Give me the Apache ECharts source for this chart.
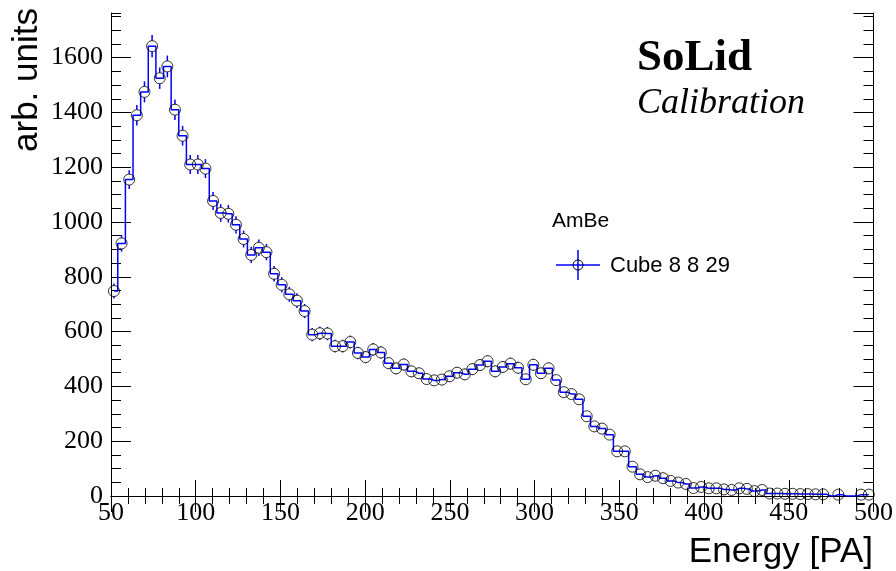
<!DOCTYPE html>
<html>
<head>
<meta charset="utf-8">
<script src="https://cdn.jsdelivr.net/npm/echarts@6/dist/echarts.min.js"></script>
<style>
html,body{margin:0;padding:0;background:#fff;}
#c{width:896px;height:571px;}
</style>
</head>
<body>
<div id="c"></div>
<script>
// Bin centres (Energy [PA]) and bin contents (arb. units)
const energy = [
  51.75, 56.25, 60.75, 65.25, 69.75, 74.25, 78.75, 83.25, 87.75, 92.25,
  96.75, 101.25, 105.75, 110.25, 114.75, 119.25, 123.75, 128.25, 132.75, 137.25,
  141.75, 146.25, 150.75, 155.25, 159.75, 164.25, 168.75, 173.25, 177.75, 182.25,
  186.75, 191.25, 195.75, 200.25, 204.75, 209.25, 213.75, 218.25, 222.75, 227.25,
  231.75, 236.25, 240.75, 245.25, 249.75, 254.25, 258.75, 263.25, 267.75, 272.25,
  276.75, 281.25, 285.75, 290.25, 294.75, 299.25, 303.75, 308.25, 312.75, 317.25,
  321.75, 326.25, 330.75, 335.25, 339.75, 344.25, 348.75, 353.25, 357.75, 362.25,
  366.75, 371.25, 375.75, 380.25, 384.75, 389.25, 393.75, 398.25, 402.75, 407.25,
  411.75, 416.25, 420.75, 425.25, 429.75, 434.25, 438.75, 443.25, 447.75, 452.25,
  456.75, 461.25, 465.75, 470.25, 474.75, 479.25, 483.75, 488.25, 492.75, 497.25
];
const counts = [
  748, 922, 1155, 1390, 1475, 1642, 1525, 1568, 1410, 1315,
  1210, 1210, 1195, 1077, 1033, 1030, 990, 938, 880, 906,
  890, 811, 771, 736, 713, 675, 589, 594, 593, 547,
  547, 562, 522, 507, 535, 524, 485, 466, 480, 455,
  448, 427, 422, 425, 437, 450, 444, 463, 478, 492,
  455, 471, 483, 468, 426, 479, 448, 466, 423, 379,
  372, 353, 291, 254, 246, 224, 163, 163, 107, 79,
  69, 74, 65, 55, 49, 44, 29, 33, 28, 28,
  24, 22, 28, 26, 18, 22, 9, 9, 8, 8,
  7, 7, 6, 6, 0, 5, 0, 0, 5, 5
];
const xTicks = {min: 50, max: 500, step: 50};
const yTicks = {min: 0, max: 1763, step: 200, minorStep: 50};
const legendHeader = 'AmBe';
const legendEntry = 'Cube 8 8 29';

const BLUE = '#0000ff';
const SERIF = '"Liberation Serif", "Times New Roman", serif';
const SANS = '"Liberation Sans", Arial, Helvetica, sans-serif';

const histData = energy.map((e, i) => [e, counts[i]]);
const pointData = [];
energy.forEach((e, i) => { if (counts[i] > 0) pointData.push([e, counts[i], Math.sqrt(counts[i])]); });

const R = 5.5;
function renderErr(params, api) {
  const x = api.value(0), v = api.value(1), e = api.value(2);
  const c = api.coord([x, v]);
  const t = api.coord([x, v + e]);
  const b = api.coord([x, v - e]);
  const children = [];
  const st = {stroke: BLUE, lineWidth: 1.5};
  if (c[1] - t[1] > R) children.push({type: 'line', shape: {x1: c[0], y1: c[1] - R, x2: c[0], y2: t[1]}, style: st});
  if (b[1] - c[1] > R) children.push({type: 'line', shape: {x1: c[0], y1: c[1] + R, x2: c[0], y2: b[1]}, style: st});
  return {type: 'group', children};
}

const plain = v => String(Math.round(v));
const axLine = {show: true, lineStyle: {color: '#000', width: 1}};
function xAx(pos, labels) {
  return {
    type: 'value', position: pos, min: xTicks.min, max: xTicks.max, interval: xTicks.step,
    axisLine: axLine,
    axisTick: {show: true, inside: true, length: 16, lineStyle: {color: '#000'}},
    minorTick: {show: true, splitNumber: 5, length: 8, lineStyle: {color: '#000'}},
    axisLabel: {show: labels, color: '#000', fontFamily: SERIF, fontSize: 26, margin: 4, formatter: plain},
    splitLine: {show: false}
  };
}
function yAx(pos, labels, step, len, line) {
  return {
    type: 'value', position: pos, min: yTicks.min, max: yTicks.max, interval: step,
    axisLine: line ? axLine : {show: false},
    axisTick: {show: true, inside: true, length: len, lineStyle: {color: '#000'}},
    axisLabel: {show: labels, color: '#000', fontFamily: SERIF, fontSize: 26, margin: 8, showMaxLabel: false, formatter: plain},
    splitLine: {show: false}
  };
}

const chart = echarts.init(document.getElementById('c'), null, {renderer: 'canvas'});
chart.setOption({
  animation: false,
  backgroundColor: '#fff',
  grid: {left: 111, right: 22, top: 13, bottom: 75, containLabel: false},
  xAxis: [xAx('bottom', true), xAx('top', false)],
  yAxis: [
    yAx('left', true, yTicks.step, 20, true),
    yAx('left', false, yTicks.minorStep, 10, false),
    yAx('right', false, yTicks.step, 20, true),
    yAx('right', false, yTicks.minorStep, 10, false)
  ],
  series: [
    {type: 'line', step: 'middle', data: histData, showSymbol: false, symbol: 'none',
     lineStyle: {color: BLUE, width: 1.5}, z: 2, silent: true},
    {type: 'custom', data: pointData, renderItem: renderErr, z: 3, silent: true},
    {type: 'scatter', data: pointData, symbol: 'circle', symbolSize: 11,
     itemStyle: {color: 'rgba(0,0,0,0)', borderColor: '#000', borderWidth: 1}, z: 4, silent: true}
  ],
  graphic: [
    {type: 'text', x: 27, y: 8, rotation: Math.PI / 2,
     style: {text: 'arb. units', font: '35px ' + SANS, fill: '#000', align: 'right', verticalAlign: 'middle'}},
    {type: 'text', x: 873, y: 552,
     style: {text: 'Energy [PA]', font: '35px ' + SANS, fill: '#000', align: 'right', verticalAlign: 'middle'}},
    {type: 'text', x: 752, y: 58,
     style: {text: 'SoLid', font: 'bold 45px ' + SERIF, fill: '#000', align: 'right', verticalAlign: 'middle'}},
    {type: 'text', x: 805, y: 104,
     style: {text: 'Calibration', font: 'italic 36px ' + SERIF, fill: '#000', align: 'right', verticalAlign: 'middle'}},
    {type: 'text', x: 552, y: 221,
     style: {text: legendHeader, font: '21px ' + SANS, fill: '#000', align: 'left', verticalAlign: 'middle'}},
    {type: 'line', shape: {x1: 556, y1: 265, x2: 600, y2: 265}, style: {stroke: BLUE, lineWidth: 1.5}},
    {type: 'line', shape: {x1: 578, y1: 250, x2: 578, y2: 280}, style: {stroke: BLUE, lineWidth: 1.5}},
    {type: 'circle', shape: {cx: 578, cy: 265, r: 5}, style: {stroke: '#000', fill: 'none', lineWidth: 1}},
    {type: 'text', x: 610, y: 266,
     style: {text: legendEntry, font: '22px ' + SANS, fill: '#000', align: 'left', verticalAlign: 'middle'}}
  ]
});
</script>
</body>
</html>
